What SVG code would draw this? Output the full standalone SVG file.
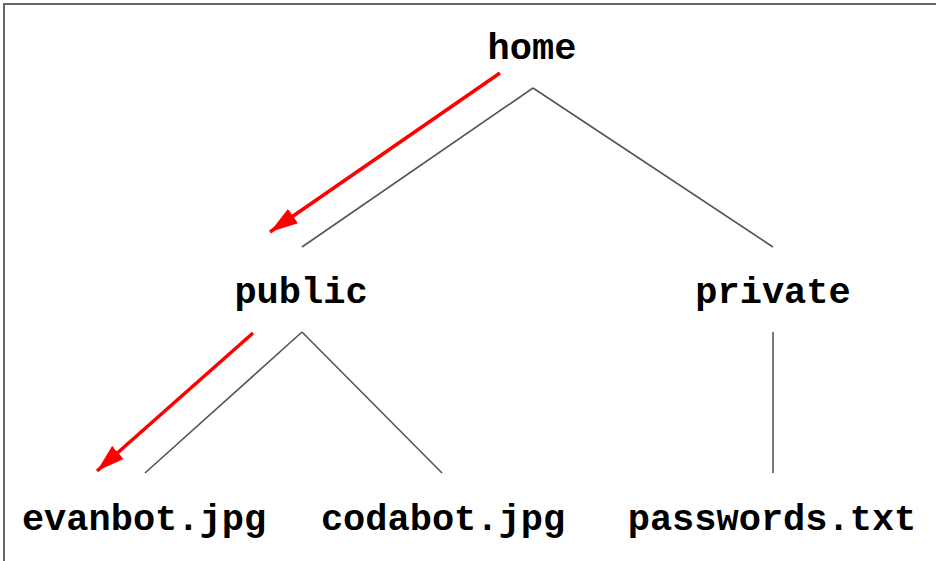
<svg xmlns="http://www.w3.org/2000/svg" width="936" height="561" viewBox="0 0 936 561">
  <style>
    .label { font-family: "Liberation Mono", "Courier New", monospace; font-weight: bold; font-size: 37px; fill: #000; text-anchor: middle; }
    .edge { stroke: #555; stroke-width: 1.6; fill: none; }
    .path { stroke: #f00; stroke-width: 3.5; fill: none; marker-end: url(#arrow); }
  </style>
  <defs>
    <marker id="arrow" markerWidth="8" markerHeight="5" refX="8" refY="2.5" orient="auto" markerUnits="strokeWidth">
      <path d="M0,0 L8,2.5 L0,5 Z" fill="#f00"/>
    </marker>
  </defs>
  <rect width="936" height="561" fill="#fff"/>
  <!-- frame: top and left edges only -->
  <path d="M4,561 V4 H936" stroke="#666" stroke-width="2" fill="none"/>

  <g id="connectors">
    <line class="edge" x1="533" y1="88" x2="302" y2="247"/>
    <line class="edge" x1="533" y1="88" x2="773" y2="247"/>
    <line class="edge" x1="302" y1="332" x2="145" y2="473"/>
    <line class="edge" x1="302" y1="332" x2="442" y2="473"/>
    <line class="edge" x1="773" y1="332" x2="773" y2="473"/>
    <line class="path" x1="500" y1="73" x2="270" y2="232"/>
    <line class="path" x1="253" y1="333" x2="97" y2="471"/>
  </g>

  <g id="home"><text class="label" x="532" y="59">home</text></g>
  <g id="public"><text class="label" x="301" y="303">public</text></g>
  <g id="private"><text class="label" x="773" y="303">private</text></g>
  <g id="evanbot"><text class="label" x="144" y="530">evanbot.jpg</text></g>
  <g id="codabot"><text class="label" x="443" y="530">codabot.jpg</text></g>
  <g id="passwords"><text class="label" x="772" y="530">passwords.txt</text></g>
</svg>
